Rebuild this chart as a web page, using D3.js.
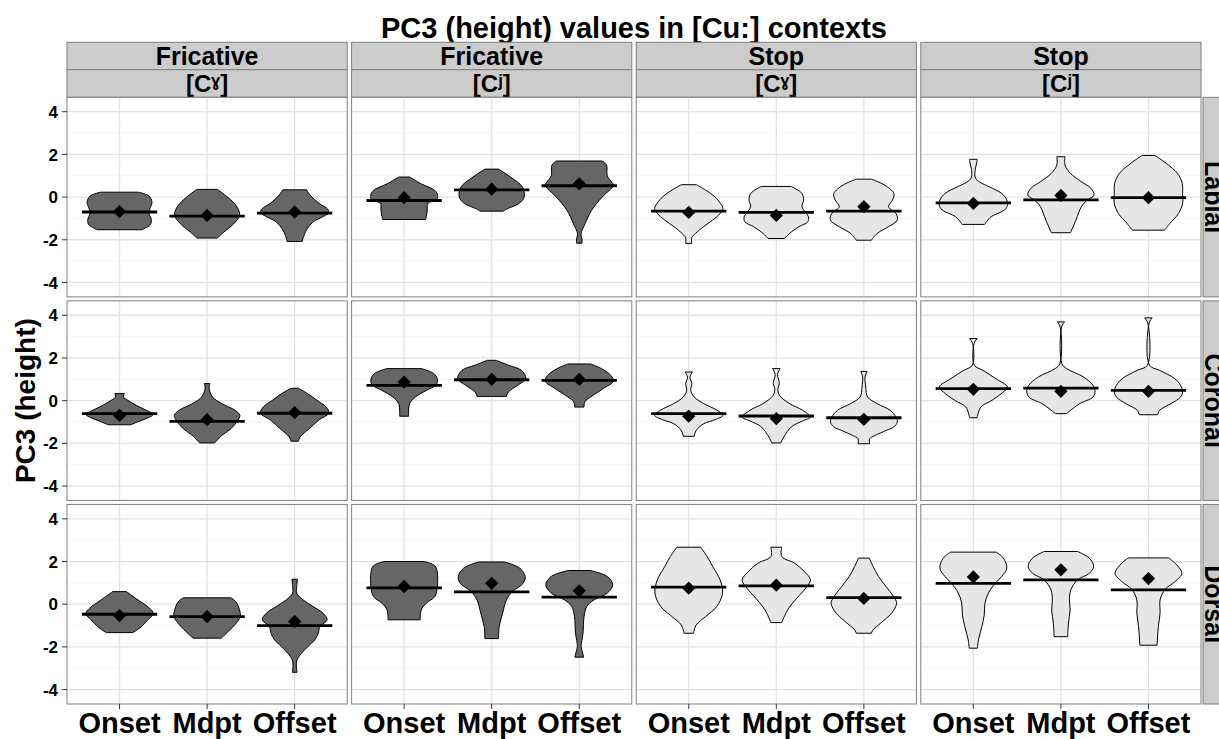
<!DOCTYPE html>
<html><head><meta charset="utf-8">
<script src="https://cdn.jsdelivr.net/npm/d3@7"></script>
<style>
body{margin:0;background:#fff}
svg{display:block}
text{font-family:"Liberation Sans",Arial,Helvetica,sans-serif;font-weight:bold;fill:#000}
</style>
</head><body>
<svg id="chart" width="1219" height="739"></svg>
<script>
// ---------------- DATA ----------------
const chartTitle = "PC3 (height) values in [Cu:] contexts";
const yTitle = "PC3 (height)";
const places = ["Labial", "Coronal", "Dorsal"];
const manners = ["Fricative", "Fricative", "Stop", "Stop"];
const contexts = ["[Cˠ]", "[Cʲ]", "[Cˠ]", "[Cʲ]"];
const positions = ["Onset", "Mdpt", "Offset"];
const yTicks = [-4, -2, 0, 2, 4];
const yMinorTicks = [-3, -1, 1, 3];
const yDomain = [-4.675, 4.675];

// medians / means: per place, 12 values = 4 panels x (Onset, Mdpt, Offset)
const medians = [
  [-0.70, -0.89, -0.75,  -0.16, 0.34, 0.53,  -0.66, -0.72, -0.66,  -0.27, -0.13, -0.03],
  [-0.61, -0.97, -0.59,   0.72, 0.98, 0.95,  -0.61, -0.72, -0.80,   0.56,  0.59,  0.48],
  [-0.47, -0.58, -1.00,   0.77, 0.58, 0.33,   0.80,  0.86,  0.31,   0.98,  1.14,  0.67]
];
const means = [
  [-0.68, -0.86, -0.70,  -0.03, 0.37, 0.62,  -0.72, -0.86, -0.45,  -0.30, 0.08, -0.03],
  [-0.69, -0.89, -0.56,   0.87, 1.00, 1.00,  -0.73, -0.84, -0.88,   0.53, 0.44,  0.44],
  [-0.53, -0.58, -0.81,   0.83, 0.98, 0.63,   0.75,  0.89,  0.27,   1.28, 1.61,  1.20]
];

// violin outlines: [value, relative density] from top to bottom
const violinsLabial = [
  [[0.23,0.55],[0.05,0.86],[-0.23,0.95],[-0.5,0.9],[-0.75,0.86],[-1.05,0.93],[-1.3,0.9],[-1.45,0.75],[-1.53,0.65]],
  [[0.36,0.3],[0.0,0.6],[-0.47,0.88],[-0.86,0.95],[-1.25,0.78],[-1.64,0.49],[-1.92,0.3]],
  [[0.34,0.35],[0.1,0.45],[-0.3,0.72],[-0.55,0.96],[-0.72,1.0],[-0.9,0.85],[-1.15,0.55],[-1.5,0.36],[-1.85,0.26],[-2.08,0.22]],
  [[0.94,0.16],[0.62,0.5],[0.31,0.9],[0.08,0.98],[-0.12,0.95],[-0.3,0.69],[-0.6,0.68],[-0.9,0.65],[-1.05,0.63]],
  [[1.31,0.2],[0.94,0.55],[0.47,0.9],[0.0,0.95],[-0.3,0.8],[-0.55,0.45],[-0.66,0.34]],
  [[1.69,0.67],[1.5,0.8],[1.0,0.82],[0.7,0.95],[0.55,1.0],[0.0,0.67],[-0.62,0.36],[-1.25,0.17],[-1.72,0.05],[-1.95,0.08],[-2.16,0.08]],
  [[0.58,0.22],[0.33,0.49],[0.02,0.76],[-0.3,0.93],[-0.53,1.0],[-0.77,0.92],[-1.08,0.7],[-1.39,0.43],[-1.7,0.2],[-1.9,0.09],[-2.17,0.09]],
  [[0.5,0.44],[0.17,0.75],[-0.14,0.8],[-0.45,0.75],[-0.92,0.94],[-1.16,0.92],[-1.39,0.66],[-1.7,0.39],[-1.94,0.24]],
  [[0.84,0.22],[0.56,0.61],[0.17,0.88],[-0.14,0.84],[-0.45,0.72],[-0.77,0.94],[-1.08,0.98],[-1.39,0.72],[-1.7,0.39],[-2.02,0.22]],
  [[1.77,0.11],[1.6,0.1],[1.3,0.055],[0.9,0.06],[0.7,0.19],[0.48,0.47],[0.17,0.83],[-0.14,0.98],[-0.38,1.0],[-0.61,0.91],[-0.92,0.52],[-1.28,0.33]],
  [[1.89,0.12],[1.5,0.12],[1.11,0.28],[0.72,0.6],[0.41,0.88],[0.09,0.97],[-0.14,0.77],[-0.45,0.6],[-1.08,0.44],[-1.67,0.28]],
  [[1.95,0.19],[1.58,0.52],[1.11,0.85],[0.64,0.99],[0.17,1.0],[-0.3,1.0],[-0.77,0.88],[-1.23,0.63],[-1.55,0.47]]
];
const violinsCoronal = [
  [[0.33,0.14],[0.17,0.11],[0.02,0.24],[-0.22,0.49],[-0.45,0.78],[-0.64,0.99],[-0.8,0.84],[-0.95,0.6],[-1.13,0.33]],
  [[0.8,0.08],[0.56,0.06],[0.17,0.16],[-0.14,0.43],[-0.45,0.82],[-0.69,0.96],[-0.92,0.9],[-1.31,0.7],[-1.63,0.43],[-1.98,0.22]],
  [[0.58,0.11],[0.33,0.38],[0.02,0.65],[-0.3,0.92],[-0.58,1.0],[-0.92,0.7],[-1.31,0.43],[-1.7,0.16],[-1.9,0.11]],
  [[1.5,0.51],[1.27,0.87],[0.95,0.98],[0.72,0.92],[0.48,0.65],[0.17,0.33],[-0.14,0.16],[-0.73,0.13]],
  [[1.89,0.13],[1.66,0.49],[1.42,0.87],[1.03,1.0],[0.72,0.76],[0.41,0.49],[0.2,0.43]],
  [[1.72,0.33],[1.5,0.65],[1.19,0.92],[0.92,1.0],[0.56,0.7],[0.17,0.33],[-0.06,0.16],[-0.3,0.14]],
  [[1.34,0.11],[1.11,0.035],[0.8,0.09],[0.48,0.06],[0.17,0.16],[-0.14,0.44],[-0.45,0.83],[-0.69,1.0],[-0.89,0.77],[-1.08,0.44],[-1.39,0.22],[-1.67,0.16]],
  [[1.5,0.11],[1.23,0.035],[0.8,0.09],[0.56,0.045],[0.25,0.09],[-0.14,0.39],[-0.45,0.77],[-0.77,1.0],[-0.95,0.77],[-1.23,0.44],[-1.7,0.22],[-1.98,0.13]],
  [[1.37,0.09],[1.11,0.035],[0.64,0.055],[0.17,0.11],[-0.14,0.39],[-0.45,0.77],[-0.77,0.94],[-1.0,0.98],[-1.23,0.88],[-1.39,0.66],[-1.63,0.33],[-1.78,0.17],[-2.02,0.17]],
  [[2.91,0.11],[2.67,0.02],[1.66,0.03],[1.42,0.28],[1.03,0.66],[0.64,1.0],[0.41,0.88],[0.02,0.55],[-0.3,0.22],[-0.8,0.11]],
  [[3.69,0.11],[3.45,0.02],[1.73,0.03],[1.5,0.17],[1.11,0.66],[0.72,0.94],[0.48,1.0],[0.17,0.94],[-0.14,0.55],[-0.61,0.16]],
  [[3.88,0.11],[3.64,0.02],[1.66,0.03],[1.42,0.33],[1.03,0.77],[0.72,0.94],[0.41,1.0],[0.17,0.94],[-0.14,0.66],[-0.45,0.33],[-0.66,0.27]]
];
const violinsDorsal = [
  [[0.59,0.2],[0.2,0.54],[-0.19,0.88],[-0.45,0.99],[-0.73,0.83],[-1.05,0.64],[-1.33,0.39]],
  [[0.3,0.7],[0.1,0.85],[-0.27,0.95],[-0.58,0.97],[-0.89,0.85],[-1.28,0.62],[-1.59,0.41]],
  [[1.17,0.08],[0.83,0.06],[0.52,0.06],[0.2,0.25],[-0.11,0.54],[-0.42,0.83],[-0.73,0.95],[-1.05,0.74],[-1.36,0.69],[-1.67,0.59],[-1.98,0.39],[-2.3,0.2],[-2.61,0.07],[-2.92,0.05],[-3.19,0.07]],
  [[2.0,0.59],[1.8,0.9],[1.5,0.97],[0.8,0.97],[0.36,0.9],[0.05,0.65],[-0.27,0.5],[-0.73,0.47]],
  [[1.98,0.38],[1.69,0.82],[1.3,0.98],[0.98,0.92],[0.59,0.6],[0.2,0.43],[-0.42,0.32],[-1.05,0.22],[-1.61,0.2]],
  [[1.58,0.32],[1.3,0.82],[0.91,0.98],[0.52,0.82],[0.2,0.43],[-0.11,0.22],[-0.58,0.14],[-1.36,0.11],[-1.98,0.055],[-2.22,0.09],[-2.48,0.13]],
  [[2.67,0.35],[2.23,0.54],[1.77,0.7],[1.14,0.92],[0.52,0.99],[-0.11,0.82],[-0.58,0.49],[-0.97,0.22],[-1.36,0.14]],
  [[2.67,0.16],[2.23,0.16],[1.92,0.54],[1.53,0.82],[1.14,1.0],[0.75,0.86],[0.28,0.6],[-0.27,0.33],[-0.86,0.16]],
  [[2.16,0.16],[1.77,0.27],[1.3,0.43],[0.83,0.65],[0.36,0.87],[0.05,0.96],[-0.42,0.81],[-0.89,0.49],[-1.2,0.27],[-1.36,0.22]],
  [[2.44,0.67],[2.16,0.88],[1.69,0.98],[1.3,0.83],[0.98,0.64],[0.52,0.44],[0.05,0.34],[-0.5,0.32],[-1.05,0.25],[-1.67,0.15],[-2.06,0.12]],
  [[2.47,0.49],[2.16,0.83],[1.77,0.96],[1.45,0.83],[1.14,0.49],[0.67,0.29],[0.2,0.25],[-0.27,0.27],[-0.89,0.22],[-1.52,0.2]],
  [[2.17,0.59],[1.84,0.83],[1.45,0.98],[1.06,0.78],[0.7,0.49],[0.2,0.34],[-0.42,0.34],[-1.05,0.29],[-1.92,0.25]]
];
const violins = [violinsLabial, violinsCoronal, violinsDorsal];

// ---------------- LAYOUT ----------------
const svg = d3.select("#chart");
const plotL = 67, plotR = 1201, plotT = 97.3, plotB = 704;
const colGap = 4.4, rowGap = 4;
const nC = manners.length, nR = places.length;

const colScale = d3.scaleBand().domain(d3.range(nC)).range([plotL, plotR])
  .paddingInner(nC * colGap / (plotR - plotL + colGap)).paddingOuter(0);
const rowScale = d3.scaleBand().domain(d3.range(nR)).range([plotT, plotB])
  .paddingInner(nR * rowGap / (plotB - plotT + rowGap)).paddingOuter(0);
const pw = colScale.bandwidth(), ph = rowScale.bandwidth();

const x = d3.scalePoint().domain(positions).range([0, pw]).padding(0.6);
const y = d3.scaleLinear().domain(yDomain).range([ph, 0]);
const wScale = d3.scaleLinear().domain([0, 1]).range([0, x.step() * 0.39]);
const fillScale = d3.scaleOrdinal().domain(["Fricative", "Stop"]).range(["#666666", "#E6E6E6"]);

const gridMajor = "#E2E2E2", gridMinor = "#F7F7F7", borderCol = "#7F7F7F", stripFill = "#CCCCCC";

// title
svg.append("text").attr("x", (plotL + plotR) / 2).attr("y", 38)
  .attr("text-anchor", "middle").style("font-size", "29px").text(chartTitle);

// y axis title
svg.append("text").attr("transform", `translate(35,${(plotT + plotB) / 2}) rotate(-90)`)
  .attr("text-anchor", "middle").style("font-size", "28px").text(yTitle);

// top strips
const stripTop = 42.3, stripMid = 69.7;
manners.forEach((m, c) => {
  const x0 = colScale(c);
  svg.append("rect").attr("x", x0).attr("y", stripTop).attr("width", pw).attr("height", stripMid - stripTop)
    .attr("fill", stripFill).attr("stroke", borderCol).attr("stroke-width", 1);
  svg.append("rect").attr("x", x0).attr("y", stripMid).attr("width", pw).attr("height", plotT - stripMid)
    .attr("fill", stripFill).attr("stroke", borderCol).attr("stroke-width", 1);
  svg.append("text").attr("x", x0 + pw / 2).attr("y", (stripTop + stripMid) / 2).attr("dy", "0.36em")
    .attr("text-anchor", "middle").style("font-size", "25px").text(m);
  svg.append("text").attr("x", x0 + pw / 2).attr("y", (stripMid + plotT) / 2).attr("dy", "0.34em")
    .attr("text-anchor", "middle").style("font-size", "24px").text(contexts[c]);
});

// right strips (cut by the picture's right edge, as in the original)
places.forEach((p, r) => {
  const y0 = rowScale(r);
  svg.append("rect").attr("x", plotR + 2).attr("y", y0).attr("width", 30).attr("height", ph)
    .attr("fill", stripFill).attr("stroke", borderCol).attr("stroke-width", 1);
  svg.append("text").attr("transform", `translate(${plotR + 4},${y0 + ph / 2}) rotate(90)`)
    .attr("text-anchor", "middle").style("font-size", "25px").text(p);
});

const area = d3.area()
  .y(d => y(d[0]))
  .x0(d => -wScale(d[1]))
  .x1(d => wScale(d[1]))
  .curve(d3.curveCatmullRom.alpha(0.5));

const diamond = d3.symbol().type(d3.symbolSquare).size(88);

places.forEach((place, r) => {
  manners.forEach((manner, c) => {
    const g = svg.append("g").attr("transform", `translate(${colScale(c)},${rowScale(r)})`);
    g.append("rect").attr("width", pw).attr("height", ph).attr("fill", "#fff");
    // minor grid
    g.selectAll(".minor").data(yMinorTicks).join("line")
      .attr("x1", 0).attr("x2", pw).attr("y1", d => y(d)).attr("y2", d => y(d))
      .attr("stroke", gridMinor).attr("stroke-width", 1);
    // major grid
    g.selectAll(".majY").data(yTicks).join("line")
      .attr("x1", 0).attr("x2", pw).attr("y1", d => y(d)).attr("y2", d => y(d))
      .attr("stroke", gridMajor).attr("stroke-width", 1.3);
    g.selectAll(".majX").data(positions).join("line")
      .attr("x1", d => x(d)).attr("x2", d => x(d)).attr("y1", 0).attr("y2", ph)
      .attr("stroke", gridMajor).attr("stroke-width", 1.3);

    positions.forEach((pos, k) => {
      const idx = c * 3 + k;
      const cx = x(pos);
      const prof = violins[r][idx];
      g.append("path").datum(prof).attr("transform", `translate(${cx},0)`)
        .attr("d", area).attr("fill", fillScale(manner))
        .attr("stroke", "#000").attr("stroke-width", 1).attr("stroke-linejoin", "round");
      const hw = x.step() * 0.43;
      g.append("line").attr("x1", cx - hw).attr("x2", cx + hw)
        .attr("y1", y(medians[r][idx])).attr("y2", y(medians[r][idx]))
        .attr("stroke", "#000").attr("stroke-width", 2.8);
      g.append("path").attr("d", diamond)
        .attr("transform", `translate(${cx},${y(means[r][idx])}) rotate(45)`)
        .attr("fill", "#000");
    });

    g.append("rect").attr("width", pw).attr("height", ph).attr("fill", "none")
      .attr("stroke", borderCol).attr("stroke-width", 1);

    // y axis ticks & labels on first column
    if (c === 0) {
      yTicks.forEach(t => {
        g.append("line").attr("x1", -5).attr("x2", 0).attr("y1", y(t)).attr("y2", y(t))
          .attr("stroke", "#333").attr("stroke-width", 1);
        g.append("text").attr("x", -9).attr("y", y(t)).attr("dy", "0.36em")
          .attr("text-anchor", "end").style("font-size", "17px").text(t);
      });
    }
    // x axis on bottom row
    if (r === nR - 1) {
      positions.forEach(pos => {
        g.append("line").attr("x1", x(pos)).attr("x2", x(pos)).attr("y1", ph).attr("y2", ph + 5)
          .attr("stroke", "#333").attr("stroke-width", 1);
        g.append("text").attr("x", x(pos)).attr("y", ph + 29.5).attr("text-anchor", "middle")
          .style("font-size", "29px").text(pos);
      });
    }
  });
});
</script>
</body></html>
